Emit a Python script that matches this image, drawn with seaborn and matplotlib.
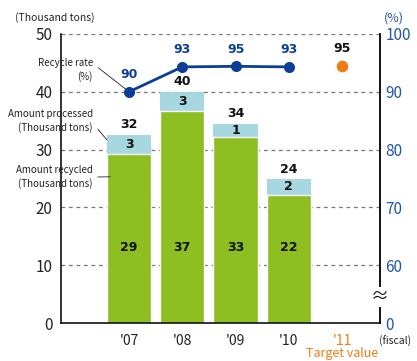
import matplotlib
matplotlib.use("Agg")
import matplotlib.pyplot as plt
import seaborn as sns
import pandas as pd

years = ["'07", "'08", "'09", "'10", "'11"]
bar_years = ["'07", "'08", "'09", "'10"]
# label values
processed = [32, 40, 34, 24]
recycled = [29, 37, 33, 22]
difference = [3, 3, 1, 2]
# bar heights as drawn in the picture
processed_bar = [32.6, 40.0, 34.5, 24.9]
recycled_bar = [29.3, 36.6, 32.1, 22.2]
rate_labels = [90, 93, 95, 93]
rate_pos = [90, 94.3, 94.4, 94.3]
target_label = 95
target_pos = 94.5

left_ticks = [0, 10, 20, 30, 40, 50]
right_ticks = [50, 60, 70, 80, 90, 100]
right_ticklabels = ["0", "60", "70", "80", "90", "100"]

GREEN = "#8DBE22"
LBLUE = "#A7D8E0"
NAVY = "#0B3F96"
ORANGE = "#EF7D17"
RBLUE = "#2356A6"

sns.set_style("white")
plt.rcParams["font.family"] = ["Noto Sans CJK JP", "DejaVu Sans"]

fig = plt.figure(figsize=(4.17, 3.61), dpi=100)
ax = fig.add_axes([0.146, 0.105, 0.765, 0.801])

df = pd.DataFrame({"year": bar_years, "processed": processed_bar, "recycled": recycled_bar})
sns.barplot(data=df, x="year", y="processed", order=years, color=LBLUE, width=0.83,
            saturation=1, ax=ax, edgecolor="none")
sns.barplot(data=df, x="year", y="recycled", order=years, color=GREEN, width=0.83,
            saturation=1, ax=ax, edgecolor="white", linewidth=1.0)

ax.set_xlim(-1.28, 4.71)
ax.set_ylim(0, 50)
ax.set_yticks(left_ticks)
ax.set_yticklabels([str(t) for t in left_ticks], fontsize=11, color="#222222")
ax.set_xlabel("")
ax.set_ylabel("")
ax.tick_params(axis="y", length=0, pad=6)
ax.tick_params(axis="x", length=0, pad=8, labelsize=10)
for lbl in ax.get_xticklabels():
    lbl.set_color(ORANGE if lbl.get_text() == "'11" else "#222222")

for y in left_ticks[1:]:
    ax.axhline(y, color="#777777", linestyle=(0, (3, 3)), linewidth=0.9, zorder=0)

ax.spines["top"].set_visible(False)
for s in ["left", "bottom", "right"]:
    ax.spines[s].set_color("#111111")
    ax.spines[s].set_linewidth(1.2)

# bar labels
for i in range(len(bar_years)):
    ax.text(i, 13, str(recycled[i]), ha="center", va="center", fontsize=9,
            fontweight="bold", family="DejaVu Sans", color="#111111")
    ax.text(i, (recycled_bar[i] + processed_bar[i]) / 2, str(difference[i]), ha="center",
            va="center", fontsize=9, fontweight="bold", family="DejaVu Sans", color="#111111")
    ax.text(i, processed_bar[i] + 0.6, str(processed[i]), ha="center", va="bottom",
            fontsize=9, fontweight="bold", family="DejaVu Sans", color="#111111")

ax2 = ax.twinx()
ax2.set_ylim(50, 100)
ax2.set_yticks(right_ticks)
ax2.set_yticklabels(right_ticklabels, fontsize=11, color=RBLUE)
ax2.tick_params(axis="y", length=0, pad=4)
for s in ["top", "left", "bottom"]:
    ax2.spines[s].set_visible(False)
ax2.spines["right"].set_color("#111111")
ax2.spines["right"].set_linewidth(1.2)

rdf = pd.DataFrame({"x": [0, 1, 2, 3], "rate": rate_pos})
sns.lineplot(data=rdf, x="x", y="rate", ax=ax2, color=NAVY, linewidth=2,
             marker="o", markersize=8, markeredgewidth=0)
sns.scatterplot(x=[4], y=[target_pos], ax=ax2, color=ORANGE, s=70, linewidth=0)
ax2.set_xlabel("")
ax2.set_ylabel("")
for i in range(4):
    ax2.text(i, rate_pos[i] + 1.8, str(rate_labels[i]), ha="center", va="bottom",
             fontsize=9, fontweight="bold", family="DejaVu Sans", color=NAVY)
ax2.text(4, target_pos + 1.8, str(target_label), ha="center", va="bottom",
         fontsize=9, fontweight="bold", family="DejaVu Sans", color="#111111")

# axis break on right spine
ax2.text(1.0, 54.5, "≈", transform=ax2.get_yaxis_transform(), ha="center", va="center",
         fontsize=13, color="#111111",
         bbox=dict(boxstyle="square,pad=0.05", fc="white", ec="none"))

# unit labels
fig.text(55 / 417, 1 - 18 / 361, "(Thousand tons)", ha="center", va="center",
         fontsize=7.5, color="#222222")
fig.text(394 / 417, 1 - 18 / 361, "(%)", ha="center", va="center", fontsize=9, color=RBLUE)
fig.text(395 / 417, 1 - 341 / 361, "(fiscal)", ha="center", va="center", fontsize=7.5,
         color="#222222")
fig.text(342 / 417, 1 - 354 / 361, "Target value", ha="center", va="center", fontsize=9,
         color=ORANGE)

# annotations with leader lines
fig.text(93 / 417, 1 - 70 / 361, "Recycle rate\n(%)", ha="right", va="center",
         fontsize=7, color="#222222", linespacing=1.3, multialignment="right")
ax.annotate("", xy=(0, 40), xytext=(96 / 417, 1 - 66 / 361),
            textcoords="figure fraction",
            arrowprops=dict(arrowstyle="-", color="#222222", lw=0.6))
fig.text(93 / 417, 1 - 121 / 361, "Amount processed\n(Thousand tons)", ha="right",
         va="center", fontsize=7, color="#222222", linespacing=1.3, multialignment="right")
ax.annotate("", xy=(-0.38, 31.3), xytext=(96 / 417, 1 - 127 / 361),
            textcoords="figure fraction",
            arrowprops=dict(arrowstyle="-", color="#222222", lw=0.6))
fig.text(93 / 417, 1 - 177 / 361, "Amount recycled\n(Thousand tons)", ha="right",
         va="center", fontsize=7, color="#222222", linespacing=1.3, multialignment="right")
ax.annotate("", xy=(-0.3, 25.3), xytext=(95 / 417, 1 - 177 / 361),
            textcoords="figure fraction",
            arrowprops=dict(arrowstyle="-", color="#222222", lw=0.6))

fig.savefig("out.png", dpi=100)
